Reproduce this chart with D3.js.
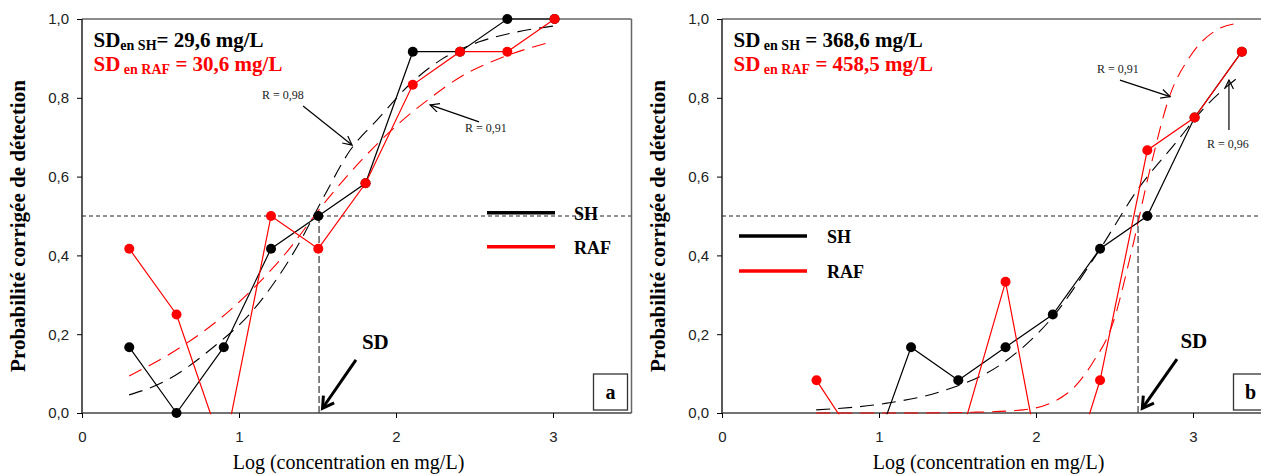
<!DOCTYPE html>
<html><head><meta charset="utf-8">
<script src="https://cdn.jsdelivr.net/npm/d3@7"></script>
<style>body{margin:0;background:#fff}text{white-space:pre}</style>
</head><body>
<svg id="c" width="1261" height="475"></svg>
<script>
// ---- data ----
const logConc = [0.301, 0.602, 0.903, 1.204, 1.505, 1.806, 2.107, 2.408, 2.709, 3.010, 3.311];
// panel a
const shA  = [0.167, 0.0, 0.167, 0.417, 0.5, 0.583, 0.917, 0.917, 1.0, 1.0, null];
const rafA = [0.417, 0.25, -0.1, 0.5, 0.417, 0.583, 0.833, 0.917, 0.917, 1.0, null];
const fitShA_x  = [0.3, 0.52, 0.83, 1.09, 1.37, 1.53, 1.71, 1.88, 2.09, 2.3, 2.53, 2.77, 3.0];
const fitShA_y  = [0.046, 0.079, 0.165, 0.261, 0.422, 0.541, 0.668, 0.744, 0.835, 0.9, 0.942, 0.967, 0.982];
const fitRafA_x = [0.3, 0.6, 0.94, 1.28, 1.56, 1.79, 2.03, 2.22, 2.41, 2.66, 2.97];
const fitRafA_y = [0.094, 0.16, 0.26, 0.397, 0.541, 0.646, 0.739, 0.8, 0.853, 0.9, 0.94];
// panel b
const shB  = [null, null, -0.167, 0.167, 0.083, 0.167, 0.25, 0.417, 0.5, 0.75, 0.917];
const rafB = [null, 0.083, -0.1, -0.1, -0.083, 0.333, -0.3, 0.083, 0.667, 0.75, 0.917];
const fitShB_x  = [0.6, 1.05, 1.39, 1.79, 2.09, 2.39, 2.66, 2.87, 3.09, 3.29];
const fitShB_y  = [0.008, 0.025, 0.054, 0.127, 0.236, 0.405, 0.574, 0.676, 0.782, 0.853];
const fitRafB_x = [0.6, 1.2, 1.6, 1.92, 2.2, 2.36, 2.49, 2.6, 2.73, 2.85, 2.98, 3.15, 3.3];
const fitRafB_y = [0.0, 0.0, 0.002, 0.008, 0.05, 0.127, 0.228, 0.396, 0.625, 0.803, 0.904, 0.972, 0.99];
// SD positions (log) and texts
const sdLog = [1.51, 2.65];
const sdSH = ["29,6", "368,6"];
const sdRAF = ["30,6", "458,5"];
const panelLabels = ["a", "b"];
const rLabels = [["R = 0,98", "R = 0,91"], ["R = 0,91", "R = 0,96"]];
const yTicks = [0, 0.2, 0.4, 0.6, 0.8, 1.0];
const xTicks = [0, 1, 2, 3];
const legendNames = ["SH", "RAF"];

// ---- drawing ----
const svg = d3.select("#c");
const SERIF = "'Liberation Serif','Times New Roman',serif";
const SANS = "'Liberation Sans',Arial,sans-serif";
const RED = "#ff0000";

const defs = svg.append("defs");
defs.append("marker").attr("id","thin").attr("markerUnits","userSpaceOnUse")
  .attr("markerWidth",12).attr("markerHeight",12).attr("refX",10).attr("refY",5)
  .attr("orient","auto").attr("viewBox","0 0 12 12")
  .append("path").attr("d","M1,0.5 L10,5 L1,9.5").attr("fill","none").attr("stroke","#000").attr("stroke-width",1.2);
defs.append("marker").attr("id","thick").attr("markerUnits","userSpaceOnUse")
  .attr("markerWidth",18).attr("markerHeight",18).attr("refX",14).attr("refY",8)
  .attr("orient","auto").attr("viewBox","0 0 18 18")
  .append("path").attr("d","M3,1.5 L14,8 L3,14.5").attr("fill","none").attr("stroke","#000").attr("stroke-width",3);

const panels = [
  {left: 82, sh: shA, raf: rafA, fsx: fitShA_x, fsy: fitShA_y, frx: fitRafA_x, fry: fitRafA_y,
   sd: sdLog[0], sdSH: sdSH[0], sdRAF: sdRAF[0], lab: panelLabels[0], compact: true,
   ann: [ {t: rLabels[0][0], tx: 1.146, ty: 0.797, ax1: 1.408, ay1: 0.779, ax2: 1.72, ay2: 0.68},
          {t: rLabels[0][1], tx: 2.44, ty: 0.713, ax1: 2.529, ay1: 0.739, ax2: 2.217, ay2: 0.782} ],
   sdArrow: {tx: 1.783, ty: 0.162, x1: 1.745, y1: 0.135, x2: 1.532, y2: 0.012},
   legend: {x: 405, y: 212.7, tx: 492, dy: 34}},
  {left: 722, sh: shB, raf: rafB, fsx: fitShB_x, fsy: fitShB_y, frx: fitRafB_x, fry: fitRafB_y,
   sd: sdLog[1], sdSH: sdSH[1], sdRAF: sdRAF[1], lab: panelLabels[1], compact: false,
   ann: [ {t: rLabels[1][0], tx: 2.389, ty: 0.864, ax1: 2.535, ay1: 0.845, ax2: 2.854, ay2: 0.803},
          {t: rLabels[1][1], tx: 3.089, ty: 0.673, ax1: 3.229, ay1: 0.718, ax2: 3.229, ay2: 0.845} ],
   sdArrow: {tx: 2.92, ty: 0.165, x1: 2.898, y1: 0.137, x2: 2.677, y2: 0.012},
   legend: {x: 17, y: 236, tx: 105, dy: 35}}
];

panels.forEach((p, i) => {
  const g = svg.append("g");
  const x = d3.scaleLinear().domain([0, 3.5]).range([p.left, p.left + 549.5]);
  const y = d3.scaleLinear().domain([0, 1]).range([413, 19]);
  const [x0, x1] = x.range();

  const cid = "clip" + i;
  defs.append("clipPath").attr("id", cid).append("rect")
    .attr("x", x0).attr("y", 0).attr("width", x1 - x0).attr("height", y(0) + 1.2);

  // reference lines
  g.append("line").attr("x1", x0).attr("x2", x1).attr("y1", y(0.5)).attr("y2", y(0.5))
    .attr("stroke", "#222").attr("stroke-width", 1).attr("stroke-dasharray", "4,3");
  g.append("line").attr("x1", x(p.sd)).attr("x2", x(p.sd)).attr("y1", y(0.5)).attr("y2", y(0))
    .attr("stroke", "#444").attr("stroke-width", 1.3).attr("stroke-dasharray", "7,3");

  // frame
  g.append("line").attr("x1", x0).attr("x2", x1).attr("y1", y(1)).attr("y2", y(1)).attr("stroke", "#666").attr("stroke-width", 1.5);
  g.append("line").attr("x1", x1).attr("x2", x1).attr("y1", y(1)).attr("y2", y(0)).attr("stroke", "#666").attr("stroke-width", 1.5);

  // axes
  const fmt = d => d3.format(".1f")(d).replace(".", ",");
  const ya = g.append("g").attr("transform", `translate(${x0},0)`)
    .call(d3.axisLeft(y).tickValues(yTicks).tickFormat(fmt).tickSize(5).tickPadding(8));
  ya.select(".domain").attr("stroke", "#222").attr("stroke-width", 1.5).attr("d", `M0,${y(1)}V${y(0)}`);
  ya.selectAll("text").attr("font-family", SANS).attr("font-size", 15).attr("fill", "#222");
  const xa = g.append("g").attr("transform", `translate(0,${y(0)})`)
    .call(d3.axisBottom(x).tickValues(xTicks).tickFormat(d3.format("d")).tickSize(5).tickPadding(13));
  xa.select(".domain").attr("stroke", "#444").attr("stroke-width", 1.5).attr("d", `M${x0},0H${x1}`);
  xa.selectAll("text").attr("font-family", SANS).attr("font-size", 15).attr("fill", "#222");

  // axis titles
  svg.append("text").attr("x", (x0 + 549.5 * 0.485)).attr("y", 469)
    .attr("text-anchor", "middle").attr("font-family", SERIF).attr("font-size", 20)
    .text("Log (concentration en mg/L)");
  svg.append("text").attr("transform", `translate(${x0 - 57},226) rotate(-90)`)
    .attr("text-anchor", "middle").attr("font-family", SERIF).attr("font-size", 21).attr("font-weight", "bold")
    .text("Probabilité corrigée de détection");

  const clipped = g.append("g").attr("clip-path", `url(#${cid})`);

  // fitted curves
  const fitLine = d3.line().x(d => x(d[0])).y(d => y(d[1])).curve(d3.curveMonotoneX);
  clipped.append("path").attr("d", fitLine(p.fsx.map((v, k) => [v, p.fsy[k]])))
    .attr("fill", "none").attr("stroke", "#000").attr("stroke-width", 1.1).attr("stroke-dasharray", "14,8");
  clipped.append("path").attr("d", fitLine(p.frx.map((v, k) => [v, p.fry[k]])))
    .attr("fill", "none").attr("stroke", RED).attr("stroke-width", 1.1).attr("stroke-dasharray", "14,8");

  // data lines
  const dl = d3.line().defined(d => d[1] != null).x(d => x(d[0])).y(d => y(d[1]));
  const shPts = logConc.map((v, k) => [v, p.sh[k]]);
  const rafPts = logConc.map((v, k) => [v, p.raf[k]]);
  clipped.append("path").attr("d", dl(shPts)).attr("fill", "none").attr("stroke", "#000").attr("stroke-width", 1.2);
  clipped.append("path").attr("d", dl(rafPts)).attr("fill", "none").attr("stroke", RED).attr("stroke-width", 1.2);

  // dots
  g.selectAll(null).data(shPts.filter(d => d[1] != null && d[1] >= 0)).join("circle")
    .attr("cx", d => x(d[0])).attr("cy", d => y(d[1])).attr("r", 5).attr("fill", "#000");
  g.selectAll(null).data(rafPts.filter(d => d[1] != null && d[1] >= 0)).join("circle")
    .attr("cx", d => x(d[0])).attr("cy", d => y(d[1])).attr("r", 5).attr("fill", RED);

  // SD texts top-left
  const t1 = g.append("text").attr("x", x0 + 11.5).attr("y", 47).attr("font-family", SERIF).attr("font-weight", "bold").attr("fill", "#000");
  t1.append("tspan").attr("font-size", 21).text("SD");
  t1.append("tspan").attr("font-size", 14).attr("dy", 3).text(p.compact ? "en SH" : " en SH");
  t1.append("tspan").attr("font-size", 21).attr("dy", -3).text((p.compact ? "= " : " = ") + p.sdSH + " mg/L");
  const t2 = g.append("text").attr("x", x0 + 11.5).attr("y", 71).attr("font-family", SERIF).attr("font-weight", "bold").attr("fill", RED);
  t2.append("tspan").attr("font-size", 21).text("SD");
  t2.append("tspan").attr("font-size", 14).attr("dy", 3).text(" en RAF");
  t2.append("tspan").attr("font-size", 21).attr("dy", -3).text(" = " + p.sdRAF + " mg/L");

  // R annotations
  p.ann.forEach(a => {
    g.append("text").attr("x", x(a.tx)).attr("y", y(a.ty)).attr("font-family", SERIF).attr("font-size", 12).attr("fill", "#222").text(a.t);
    g.append("line").attr("x1", x(a.ax1)).attr("y1", y(a.ay1)).attr("x2", x(a.ax2)).attr("y2", y(a.ay2))
      .attr("stroke", "#000").attr("stroke-width", 1.2).attr("marker-end", "url(#thin)");
  });

  // SD arrow
  const s = p.sdArrow;
  g.append("text").attr("x", x(s.tx)).attr("y", y(s.ty)).attr("font-family", SERIF).attr("font-size", 21).attr("font-weight", "bold").text("SD");
  g.append("line").attr("x1", x(s.x1)).attr("y1", y(s.y1)).attr("x2", x(s.x2)).attr("y2", y(s.y2))
    .attr("stroke", "#000").attr("stroke-width", 3).attr("marker-end", "url(#thick)");

  // legend
  const L = p.legend;
  legendNames.forEach((n, k) => {
    const yy = L.y + k * L.dy;
    g.append("line").attr("x1", x0 + L.x).attr("x2", x0 + L.x + 68).attr("y1", yy).attr("y2", yy)
      .attr("stroke", k === 0 ? "#000" : RED).attr("stroke-width", 3.5);
    g.append("text").attr("x", x0 + L.tx).attr("y", yy + 7).attr("font-family", SERIF).attr("font-size", 18)
      .attr("font-weight", "bold").text(n);
  });

  // panel label box
  g.append("rect").attr("x", x1 - 38).attr("y", 374).attr("width", 34).attr("height", 36)
    .attr("fill", "#fff").attr("stroke", "#333").attr("stroke-width", 1.3);
  g.append("text").attr("x", x1 - 21).attr("y", 399).attr("text-anchor", "middle").attr("font-family", SERIF)
    .attr("font-size", 20).attr("font-weight", "bold").text(p.lab);
});
</script>
</body></html>
